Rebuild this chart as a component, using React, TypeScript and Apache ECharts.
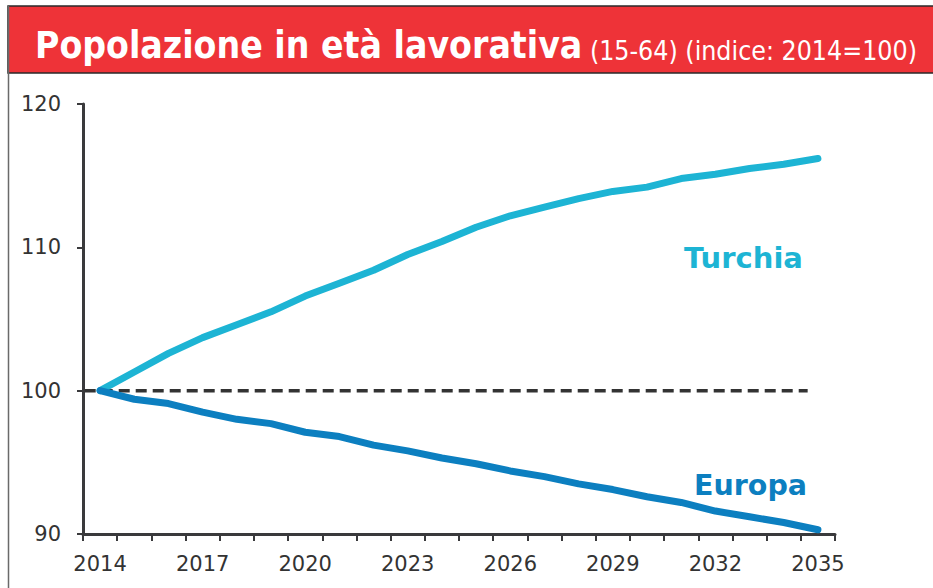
import React, { useEffect, useRef } from "react";
import * as echarts from "echarts";

const years = [
  "2014", "2015", "2016", "2017", "2018", "2019", "2020", "2021", "2022", "2023", "2024",
  "2025", "2026", "2027", "2028", "2029", "2030", "2031", "2032", "2033", "2034", "2035",
];
const turchia = [
  100, 101.3, 102.6, 103.7, 104.6, 105.5, 106.6, 107.5, 108.4, 109.5, 110.4,
  111.4, 112.2, 112.8, 113.4, 113.9, 114.2, 114.8, 115.1, 115.5, 115.8, 116.2,
];
const europa = [
  100, 99.4, 99.1, 98.5, 98.0, 97.7, 97.1, 96.8, 96.2, 95.8, 95.3,
  94.9, 94.4, 94.0, 93.5, 93.1, 92.6, 92.2, 91.6, 91.2, 90.8, 90.3,
];
const baseline = [
  [0.05, 100],
  [21.2, 100],
];
const yTicks = { min: 90, max: 120, interval: 10 };

const TITLE = "Popolazione in età lavorativa";
const SUBTITLE = "(15-64) (indice: 2014=100)";

export default function App() {
  const ref = useRef<HTMLDivElement>(null);
  useEffect(() => {
    const chart = echarts.init(ref.current!, null, { renderer: "svg" });
    const axisColor = "#3a3a3c";
    chart.setOption({
      animation: false,
      backgroundColor: "#ffffff",
      grid: { left: 83, right: 98, top: 104, bottom: 54, containLabel: false },
      xAxis: [
        {
          type: "category",
          data: years,
          boundaryGap: true,
          axisLine: { show: true, lineStyle: { color: axisColor, width: 3 } },
          axisTick: { show: true, inside: false, length: 7, interval: 0, lineStyle: { color: axisColor, width: 2 } },
          axisLabel: {
            interval: 2,
            margin: 19,
            color: "#333333",
            fontSize: 21,
            fontFamily: "DejaVu Sans",
          },
          splitLine: { show: false },
        },
        {
          type: "value",
          min: 0,
          max: 22,
          show: false,
        },
      ],
      yAxis: {
        type: "value",
        min: yTicks.min,
        max: yTicks.max,
        interval: yTicks.interval,
        axisLine: { show: true, lineStyle: { color: axisColor, width: 3 } },
        axisTick: { show: true, inside: false, length: 6, lineStyle: { color: axisColor, width: 2 } },
        axisLabel: {
          margin: 22,
          color: "#333333",
          fontSize: 21,
          fontFamily: "DejaVu Sans",
        },
        splitLine: { show: false },
      },
      series: [
        {
          name: "baseline",
          type: "line",
          xAxisIndex: 1,
          data: baseline,
          symbol: "none",
          lineStyle: { color: "#333333", width: 3.5, type: [11, 6] },
          silent: true,
          z: 1,
        },
        {
          name: "Turchia",
          type: "line",
          data: turchia,
          symbol: "none",
          lineStyle: { color: "#1db4d4", width: 7, cap: "round", join: "round" },
          z: 3,
        },
        {
          name: "Europa",
          type: "line",
          data: europa,
          symbol: "none",
          lineStyle: { color: "#0c7fc0", width: 7, cap: "round", join: "round" },
          z: 3,
        },
      ],
      graphic: [
        {
          type: "rect",
          shape: { x: 8, y: 6, width: 940, height: 67 },
          style: { fill: "#ee3338", stroke: "#2a2a2a", lineWidth: 1.5 },
          z: 10,
        },
        {
          type: "line",
          shape: { x1: 8.5, y1: 6, x2: 8.5, y2: 600 },
          style: { stroke: "#6a6a6a", lineWidth: 1.5 },
          z: 10,
        },
        {
          type: "text",
          x: 35,
          y: 42,
          style: {
            text: "{t|" + TITLE + "}{s| " + SUBTITLE + "}",
            fill: "#ffffff",
            verticalAlign: "middle",
            align: "left",
            rich: {
              t: {
                fontFamily: "'DejaVu Sans Condensed', sans-serif",
                fontWeight: "bold",
                fontSize: 37,
                fill: "#ffffff",
                verticalAlign: "bottom",
                lineHeight: 44,
              },
              s: {
                fontFamily: "'DejaVu Sans Condensed', sans-serif",
                fontSize: 26.5,
                fill: "#ffffff",
                verticalAlign: "bottom",
                lineHeight: 39,
              },
            },
          },
          z: 11,
        },
        {
          type: "text",
          x: 684,
          y: 258,
          style: {
            text: "Turchia",
            fill: "#1db4d4",
            font: "bold 29px 'DejaVu Sans', sans-serif",
            verticalAlign: "middle",
          },
          z: 11,
        },
        {
          type: "text",
          x: 694,
          y: 485,
          style: {
            text: "Europa",
            fill: "#0c7fc0",
            font: "bold 28.5px 'DejaVu Sans', sans-serif",
            verticalAlign: "middle",
          },
          z: 11,
        },
      ],
    });
    return () => chart.dispose();
  }, []);
  return (
    <div
      ref={ref}
      style={{ position: "absolute", left: 0, top: 0, width: 933, height: 588 }}
    />
  );
}
